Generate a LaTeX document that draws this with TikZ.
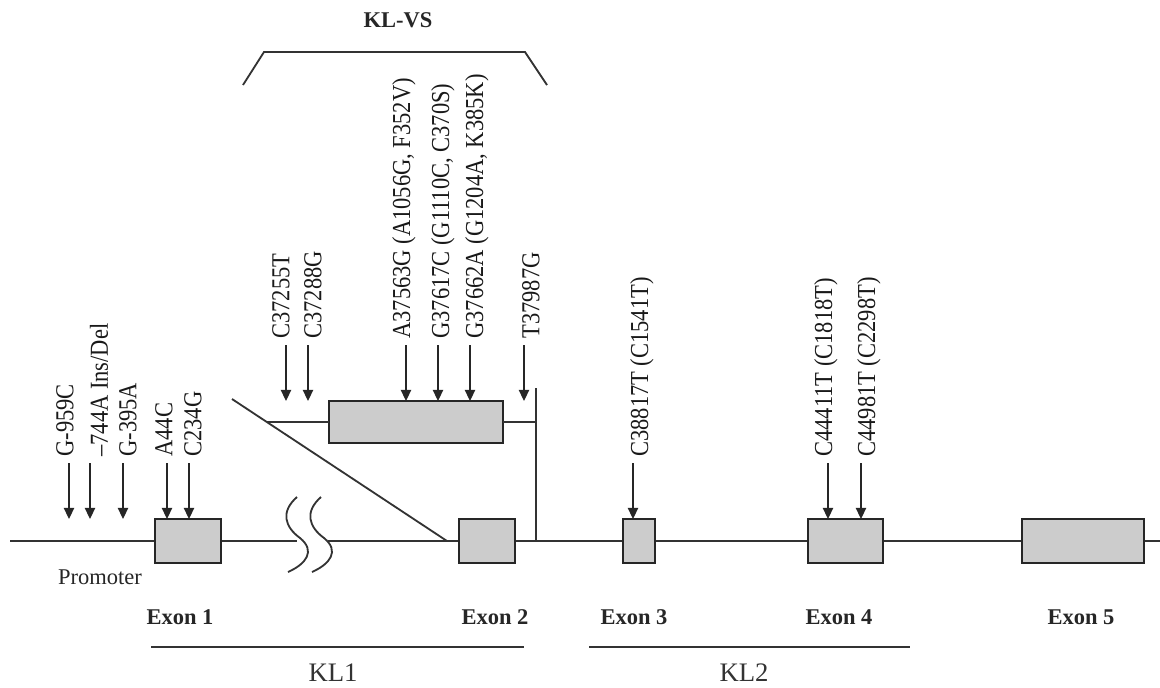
\documentclass[tikz,border=0pt]{standalone}
\usepackage{fontspec}
\setmainfont{Liberation Serif}
\usepackage{xcolor}
\usepackage{tikz}
\usetikzlibrary{positioning,arrows.meta,calc}

\begin{document}
\begin{tikzpicture}[
    x=0.025cm, y=-0.025cm,
    gene/.style={draw=black!80, line width=1.3pt},
    exon/.style={
        draw=black!85,
        line width=1.7pt,
        fill=black!20,
        inner sep=0pt,
        outer sep=0pt,
        minimum height=1.1cm
    },
    mut/.style={-{Triangle[width=0.26cm,length=0.28cm]}, draw=black!85, line width=1pt},
    lab/.style={
        rotate=90,
        yscale=1.15,
        anchor=west,
        inner sep=0.15cm,
        text=black!90,
        font=\fontsize{16}{19}\selectfont
    },
    exlab/.style={text=black!85, font=\bfseries\fontsize{16}{19}\selectfont},
    kllab/.style={text=black!80, font=\fontsize{19}{22}\selectfont}
]
\useasboundingbox (0,0) rectangle (1160,687);

% main line with the break
\coordinate (gstart) at (10,541);
\coordinate (brkL) at (297,541);
\coordinate (brkR) at (328,541);
\coordinate (gend) at (1160,541);
\draw[gene] (gstart) -- (brkL);
\draw[gene] (brkR) -- (gend);
\draw[gene] (297,497) .. controls (280,512) and (285,527) .. (300,538)
    .. controls (316,551) and (306,564) .. (288,572);
\draw[gene] (321,497) .. controls (304,512) and (309,527) .. (324,538)
    .. controls (340,551) and (330,564) .. (312,572);

% exons
\node[exon, minimum width=1.65cm] (ex1) at (188,541) {};
\node[exon, minimum width=1.4cm] (ex2) at (487,541) {};
\node[exon, minimum width=0.8cm] (ex3) at (639,541) {};
\node[exon, minimum width=1.875cm] (ex4) at (845.5,541) {};
\node[exon, minimum width=3.05cm] (ex5) at (1083,541) {};

% KL-VS variant segment
\node[exon, minimum width=4.35cm, minimum height=1.05cm] (vs) at (416,422) {};
\coordinate (dtop) at (232,399);
\coordinate (dbot) at (447,541);
\coordinate (vsjoin) at ($(dtop)!0.162!(dbot)$);
\coordinate (vstop) at (536,388);
\draw[gene] (dtop) -- (dbot);
\draw[gene] (vsjoin) -- (vs.west);
\draw[gene] (vs.east) -- (vs.east -| vstop);
\draw[gene] (vstop) -- (vstop |- ex2.east);

\node[exlab] (klvs) at (398,20) {KL-VS};
\draw[gene] (243,85) -- (264,52) -- (525,52) -- (547,85);

% promoter and exon 1
\node[lab] (g959) at (65,463) {G-959C};
\node[lab] (ins744) at (99,463) {\textendash744A Ins/Del};
\node[lab] (g395) at (128,463) {G-395A};
\node[lab] (a44) at (164,463) {A44C};
\node[lab] (c234) at (193,463) {C234G};
\coordinate (t959) at (69,463);
\coordinate (t744) at (90,463);
\coordinate (t395) at (123,463);
\coordinate (t44) at (167,463);
\coordinate (t234) at (189,463);
\draw[mut] (t959) -- (t959 |- ex1.north);
\draw[mut] (t744) -- (t744 |- ex1.north);
\draw[mut] (t395) -- (t395 |- ex1.north);
\draw[mut] (t44) -- (t44 |- ex1.north);
\draw[mut] (t234) -- (t234 |- ex1.north);

% KL-VS region
\node[lab] (c37255) at (281,345) {C37255T};
\node[lab] (c37288) at (313,345) {C37288G};
\node[lab] (a37563) at (404,345) {A37563G (A1056G, F352V)};
\node[lab] (g37617) at (443,345) {G37617C (G1110C, C370S)};
\node[lab] (g37662) at (477,345) {G37662A (G1204A, K385K)};
\node[lab] (t37987) at (531,345) {T37987G};
\coordinate (t37255) at (286,345);
\coordinate (t37288) at (308,345);
\coordinate (t37563) at (406,345);
\coordinate (t37617) at (438,345);
\coordinate (t37662) at (470,345);
\coordinate (t37987x) at (524,345);
\draw[mut] (t37255) -- (t37255 |- vs.north);
\draw[mut] (t37288) -- (t37288 |- vs.north);
\draw[mut] (t37563) -- (t37563 |- vs.north);
\draw[mut] (t37617) -- (t37617 |- vs.north);
\draw[mut] (t37662) -- (t37662 |- vs.north);
\draw[mut] (t37987x) -- (t37987x |- vs.north);

% exons 3 and 4
\node[lab] (c38817) at (642,463) {C38817T (C1541T)};
\node[lab] (c44411) at (826,463) {C44411T (C1818T)};
\node[lab] (c44981) at (869,463) {C44981T (C2298T)};
\coordinate (t38817) at (633,463);
\coordinate (t44411) at (828,463);
\coordinate (t44981) at (861,463);
\draw[mut] (t38817) -- (t38817 |- ex3.north);
\draw[mut] (t44411) -- (t44411 |- ex4.north);
\draw[mut] (t44981) -- (t44981 |- ex4.north);

% labels below
\node[text=black!85, font=\fontsize{16}{19}\selectfont] (prom) at (100,577) {Promoter};
\node[exlab] (lex1) at (180,617) {Exon 1};
\node[exlab] (lex2) at (495,617) {Exon 2};
\node[exlab] (lex3) at (634,617) {Exon 3};
\node[exlab] (lex4) at (839,617) {Exon 4};
\node[exlab] (lex5) at (1081,617) {Exon 5};

\coordinate (kl1a) at (151,647);
\coordinate (kl1b) at (524,647);
\coordinate (kl2a) at (589,647);
\coordinate (kl2b) at (910,647);
\draw[gene] (kl1a) -- (kl1b);
\draw[gene] (kl2a) -- (kl2b);
\node[kllab] (kl1) at (333,673) {KL1};
\node[kllab] (kl2) at (744,673) {KL2};

\end{tikzpicture}
\end{document}
